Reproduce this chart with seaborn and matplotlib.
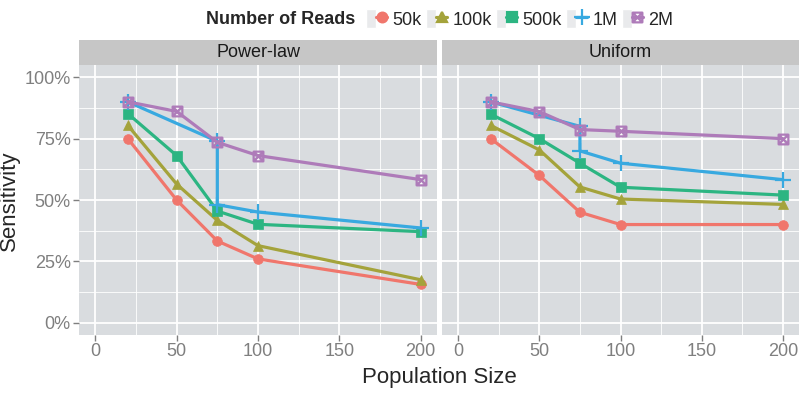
import seaborn as sns
import matplotlib.pyplot as plt
from matplotlib.path import Path
from matplotlib.patches import Rectangle
from matplotlib.lines import Line2D
from matplotlib.legend_handler import HandlerTuple
from matplotlib.ticker import PercentFormatter, MultipleLocator

# data (sensitivity, %)
sizes = [20, 50, 75, 100, 200]
sizes_1m = [20, 75, 75, 100, 200]   # 1M has two runs at 75, no run at 50

pl_50k = [75, 50, 33.3, 26, 15.6]
pl_100k = [80.4, 56.5, 41.7, 31.4, 17.5]
pl_500k = [85.2, 68.1, 45.5, 40.1, 37.1]
pl_1m = [90, 73.9, 48.1, 45.1, 38.6]
pl_2m = [90, 86.1, 73.5, 68.1, 58.3]

un_50k = [75, 60, 45, 40, 40]
un_100k = [80.4, 70.4, 55.3, 50.4, 48.2]
un_500k = [85, 75, 65, 55.2, 52]
un_1m = [90, 80, 70, 65, 58.3]
un_2m = [90, 86, 78.7, 78, 75]

reads = ['50k', '100k', '500k', '1M', '2M']
facets = ['Power-law', 'Uniform']

colors = ['#F0766C', '#A4A33B', '#2CB582', '#38A9E0', '#AE7BB9']

# ggplot shape 7: open square with an x
sqx = Path([(-1, -1), (1, -1), (1, 1), (-1, 1), (-1, -1), (-1, -1), (1, 1), (-1, 1), (1, -1)],
           [Path.MOVETO, Path.LINETO, Path.LINETO, Path.LINETO, Path.CLOSEPOLY,
            Path.MOVETO, Path.LINETO, Path.MOVETO, Path.LINETO])
markers = ['o', '^', 's', '+', sqx]
msizes = [7, 7.5, 7, 11, 7]
mfcs = [True, True, True, True, False]

sns.set_theme(style="darkgrid")
plt.rcParams['font.family'] = ['Liberation Sans', 'DejaVu Sans']

fig = plt.figure(figsize=(8, 3.94), dpi=100)
ax1 = fig.add_axes([79/800, 59/394, 358/800, 270/394])
ax2 = fig.add_axes([442/800, 59/394, 357/800, 270/394])

series = {
    'Power-law': [pl_50k, pl_100k, pl_500k, pl_1m, pl_2m],
    'Uniform': [un_50k, un_100k, un_500k, un_1m, un_2m],
}

grey = '#7F7F7F'
for ax, name in zip([ax1, ax2], facets):
    ax.set_facecolor('#D9DCDF')
    for i, r in enumerate(reads):
        xs = sizes_1m if r == '1M' else sizes
        c = colors[i]
        sns.lineplot(x=xs, y=series[name][i], ax=ax, color=c, lw=2.3,
                     marker=markers[i], markersize=msizes[i],
                     mec=c, mfc=c if mfcs[i] else 'none',
                     mew=1.6 if not mfcs[i] or r == '1M' else 0.5,
                     estimator=None, sort=False, errorbar=None)
    ax.set_xlim(-10, 210)
    ax.set_ylim(-5, 105)
    ax.xaxis.set_major_locator(MultipleLocator(50))
    ax.xaxis.set_minor_locator(MultipleLocator(25))
    ax.yaxis.set_major_locator(MultipleLocator(25))
    ax.yaxis.set_minor_locator(MultipleLocator(12.5))
    ax.grid(which='major', color='white', lw=1.3)
    ax.grid(which='minor', color='white', lw=0.6)
    for s in ax.spines.values():
        s.set_visible(False)
    ax.tick_params(axis='x', which='major', bottom=True, length=4, width=1,
                   color=grey, labelcolor=grey, labelsize=13, pad=2)
    ax.tick_params(which='minor', bottom=False, left=False)
    ax.set_xlabel('')
    ax.set_ylabel('')
    # facet strip
    ax.add_patch(Rectangle((0, 1), 1, 25/270, transform=ax.transAxes,
                           clip_on=False, facecolor='#C6C6C6', edgecolor='none'))
    ax.text(0.5, 1 + 12.5/270, name, transform=ax.transAxes, ha='center',
            va='center', fontsize=13, color='#1A1A1A')

ax1.yaxis.set_major_formatter(PercentFormatter(100, decimals=0))
ax1.tick_params(axis='y', which='major', left=True, length=4, width=1,
                color=grey, labelcolor=grey, labelsize=13, pad=2)
ax2.tick_params(axis='y', which='major', left=False, labelleft=False)

fig.text(439/800, 1 - 377/394, 'Population Size', ha='center', va='center', fontsize=16)
fig.text(9/800, 1 - 201/394, 'Sensitivity', ha='center', va='center',
         rotation=90, fontsize=16)

# legend on top
fig.text(206/800, 1 - 19/394, 'Number of Reads', ha='left', va='center',
         fontsize=13, fontweight='bold')
handles = []
for i, r in enumerate(reads):
    bg = Rectangle((0, 0), 1, 1, facecolor='#E9EAEC', edgecolor='white')
    ln = Line2D([], [], color=colors[i], lw=2.3, marker=markers[i],
                markersize=msizes[i], mec=colors[i],
                mfc=colors[i] if mfcs[i] else 'none', mew=1.6)
    handles.append((bg, ln))
fig.legend(handles, reads, loc='center left', bbox_to_anchor=(366/800, 1 - 19/394),
           ncol=5, frameon=False, fontsize=13, handlelength=1.15, handleheight=1.2,
           handletextpad=0.3, columnspacing=0.25, borderpad=0, borderaxespad=0,
           handler_map={tuple: HandlerTuple(ndivide=None, pad=0)})

plt.savefig('out.png', dpi=100)
